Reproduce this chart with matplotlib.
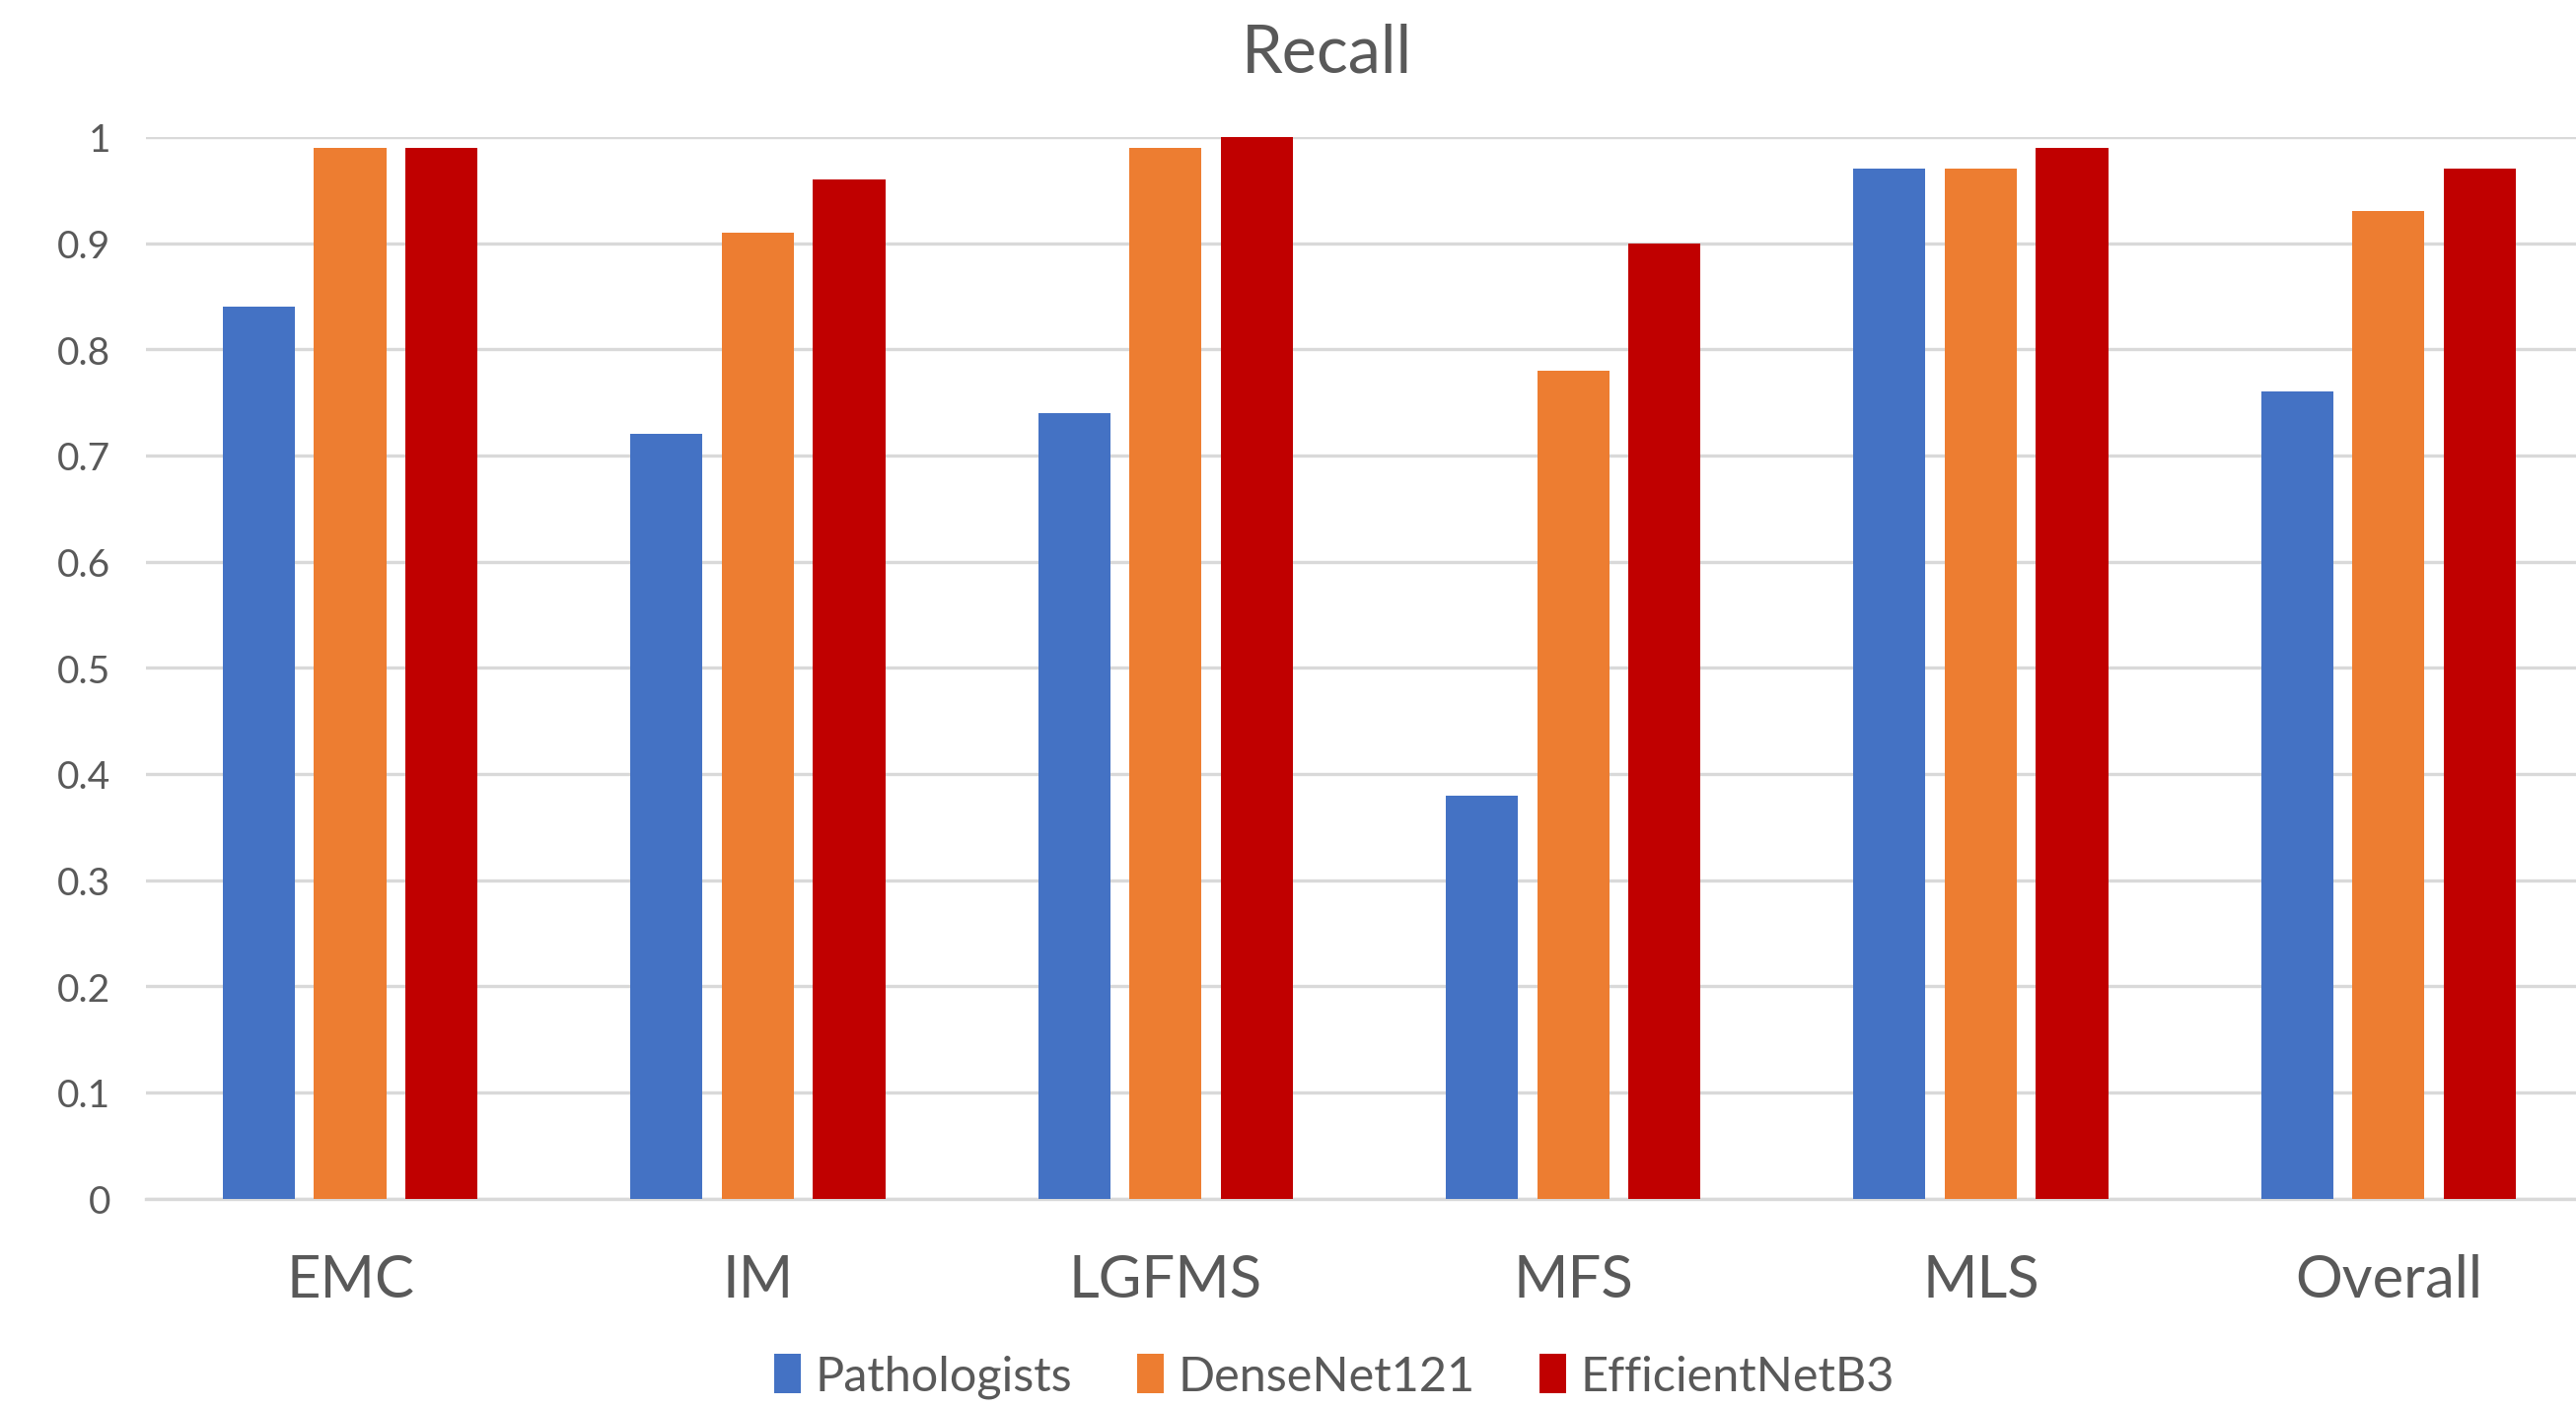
import numpy as np
import matplotlib
matplotlib.use("Agg")
import matplotlib.pyplot as plt

# recall per subtype
categories = ["EMC", "IM", "LGFMS", "MFS", "MLS", "Overall"]
pathologists = [0.84, 0.72, 0.74, 0.38, 0.97, 0.76]
densenet121 = [0.99, 0.91, 0.99, 0.78, 0.97, 0.93]
efficientnetb3 = [0.99, 0.96, 1.00, 0.90, 0.99, 0.97]
series_names = ["Pathologists", "DenseNet121", "EfficientNetB3"]
yticks = [0, 0.1, 0.2, 0.3, 0.4, 0.5, 0.6, 0.7, 0.8, 0.9, 1]
ytick_labels = ["0", "0.1", "0.2", "0.3", "0.4", "0.5", "0.6", "0.7", "0.8", "0.9", "1"]

colors = ["#4472C4", "#ED7D31", "#C00000"]
text_col = "#595959"
grid_col = "#D9D9D9"

plt.rcParams["font.family"] = ["Lato", "DejaVu Sans"]

fig = plt.figure(figsize=(13.06, 7.1399), dpi=200)
ax = fig.add_axes([0.0568, 0.148, 0.9495, 0.754])

x = np.arange(len(categories))
w = 0.177
pitch = 0.224
for i, (vals, name) in enumerate(zip([pathologists, densenet121, efficientnetb3], series_names)):
    ax.bar(x + (i - 1) * pitch, vals, width=w, color=colors[i], label=name, zorder=3)

ax.set_xlim(-0.5, len(categories) - 0.5)
ax.set_ylim(0, 1)
ax.set_yticks(yticks)
ax.set_yticklabels(ytick_labels)
ax.set_xticks(x)
ax.set_xticklabels(categories)

ax.yaxis.grid(True, color=grid_col, linewidth=1.2, zorder=0)
for s in ["top", "right", "left"]:
    ax.spines[s].set_visible(False)
ax.spines["bottom"].set_color(grid_col)
ax.spines["bottom"].set_linewidth(1.2)
ax.tick_params(axis="y", length=0, pad=13, labelsize=14, labelcolor=text_col)
ax.tick_params(axis="x", length=0, pad=20, labelsize=21.5, labelcolor=text_col)

fig.text(0.515, 0.962, "Recall", ha="center", va="center", fontsize=24, color=text_col)

fig.legend(loc="center", bbox_to_anchor=(0.518, 0.022), ncol=3, frameon=False,
           fontsize=17.5, labelcolor=text_col, handlelength=0.55, handleheight=0.9,
           handletextpad=0.3, columnspacing=1.35)

fig.savefig("out.png", dpi=200)
